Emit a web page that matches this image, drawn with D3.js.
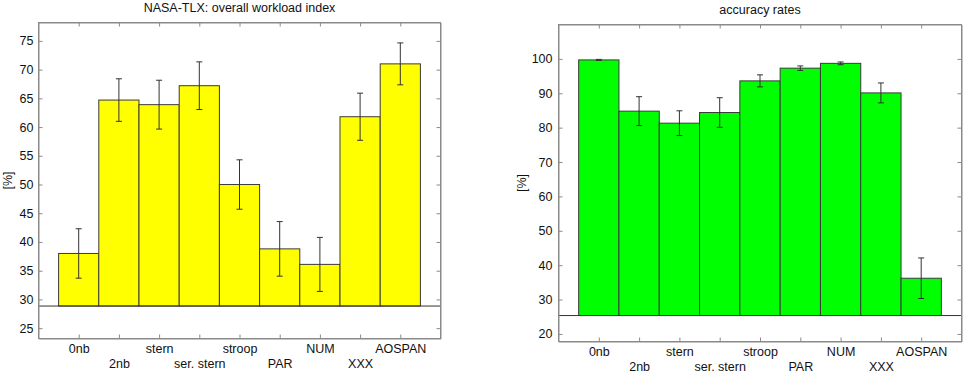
<!DOCTYPE html>
<html>
<head>
<meta charset="utf-8">
<script src="https://cdn.jsdelivr.net/npm/d3@7"></script>
<style>
  body { margin: 0; background: #fff; }
  svg { display: block; font-family: "Liberation Sans", Arial, sans-serif; }
  .axis path, .axis line { stroke: #8a8a8a; }
  .axis text { fill: #111; font-size: 12.5px; }
</style>
</head>
<body>
<div id="chart"></div>
<script>
'use strict';
const categories = ['0nb', '2nb', 'stern', 'ser. stern', 'stroop', 'PAR', 'NUM', 'XXX', 'AOSPAN'];

const workloadValues = [38.0, 64.7, 63.9, 67.2, 50.0, 38.8, 36.1, 61.8, 71.0];
const workloadErrors = [4.3, 3.7, 4.25, 4.15, 4.3, 4.75, 4.7, 4.1, 3.65];
const workloadTicks = [25, 30, 35, 40, 45, 50, 55, 60, 65, 70, 75];

const accuracyValues = [99.7, 84.8, 81.3, 84.4, 93.6, 97.3, 98.7, 90.1, 36.2];
const accuracyErrors = [0.15, 4.2, 3.6, 4.3, 1.75, 0.65, 0.4, 2.9, 5.9];
const accuracyTicks = [20, 30, 40, 50, 60, 70, 80, 90, 100];

const svg = d3.select('#chart').append('svg')
    .attr('width', 964)
    .attr('height', 375);

function drawPanel(opts) {
    let box = opts.box;
    let g = svg.append('g').attr('transform', 'translate(' + box.left + ',' + box.top + ')');
    let w = box.width, h = box.height;

    let x = d3.scaleLinear().domain([0, 10]).range([0, w]);
    let y = d3.scaleLinear().domain(opts.yDomain).range([h, 0]);
    let half = (x(1) - x(0)) / 2;

    // bars
    g.selectAll('.bar').data(opts.values).enter()
        .append('rect')
        .attr('class', 'bar')
        .attr('x', function (d, i) { return x(i + 1) - half; })
        .attr('y', function (d) { return y(d); })
        .attr('width', half * 2)
        .attr('height', function (d) { return y(opts.baseline) - y(d); })
        .style('fill', opts.color)
        .style('stroke', '#3a3a3a')
        .style('stroke-width', 1);

    // baseline
    g.append('line')
        .attr('x1', 0).attr('x2', w)
        .attr('y1', y(opts.baseline)).attr('y2', y(opts.baseline))
        .style('stroke', '#333').style('stroke-width', 1);

    // error bars
    let err = g.selectAll('.err').data(opts.values).enter().append('g').attr('class', 'err')
        .style('stroke', '#333').style('stroke-width', 1);
    err.append('line')
        .attr('x1', function (d, i) { return x(i + 1); })
        .attr('x2', function (d, i) { return x(i + 1); })
        .attr('y1', function (d, i) { return y(d + opts.errors[i]); })
        .attr('y2', function (d, i) { return y(d - opts.errors[i]); });
    [1, -1].forEach(function (s) {
        err.append('line')
            .attr('x1', function (d, i) { return x(i + 1) - 3; })
            .attr('x2', function (d, i) { return x(i + 1) + 3; })
            .attr('y1', function (d, i) { return y(d + s * opts.errors[i]); })
            .attr('y2', function (d, i) { return y(d + s * opts.errors[i]); });
    });

    let xTicks = d3.range(1, 10);

    // axes (ticks pointing inward)
    g.append('g').attr('class', 'axis')
        .call(d3.axisLeft(y).tickValues(opts.yTicks).tickSizeInner(-4).tickSizeOuter(0).tickPadding(opts.yPad));
    g.append('g').attr('class', 'axis').attr('transform', 'translate(' + w + ',0)')
        .call(d3.axisRight(y).tickValues(opts.yTicks).tickSizeInner(-4).tickSizeOuter(0).tickFormat(''));
    g.append('g').attr('class', 'axis')
        .call(d3.axisTop(x).tickValues(xTicks).tickSizeInner(-4).tickSizeOuter(0).tickFormat(''));
    let xAxis = g.append('g').attr('class', 'axis').attr('transform', 'translate(0,' + h + ')')
        .call(d3.axisBottom(x).tickValues(xTicks).tickSizeInner(-4).tickSizeOuter(0)
            .tickFormat(function (d) { return categories[d - 1]; }));
    xAxis.selectAll('text')
        .attr('y', function (d) { return d % 2 === 1 ? 6 : 21; });

    // box edges
    g.append('rect').attr('width', w).attr('height', h)
        .style('fill', 'none').style('stroke', '#8a8a8a').style('stroke-width', 1);

    svg.append('text')
        .attr('x', box.left + w / 2).attr('y', opts.titleY)
        .attr('text-anchor', 'middle')
        .style('font-size', '12.5px').style('fill', '#111')
        .text(opts.title);

    svg.append('text')
        .attr('transform', 'translate(' + opts.labelX + ',' + (box.top + h / 2) + ') rotate(-90)')
        .attr('text-anchor', 'middle')
        .attr('dy', '0.35em')
        .style('font-size', '12.5px').style('fill', '#111')
        .text('[%]');
}

drawPanel({
    box: {left: 38.5, top: 22.5, width: 402, height: 316},
    yDomain: [23.2, 78.2],
    yTicks: workloadTicks,
    yPad: 5,
    baseline: 28.85,
    values: workloadValues,
    errors: workloadErrors,
    color: '#ffff00',
    title: 'NASA-TLX: overall workload index',
    titleY: 12,
    labelX: 7.5
});

drawPanel({
    box: {left: 558.5, top: 24.5, width: 403, height: 317},
    yDomain: [17.8, 110],
    yTicks: accuracyTicks,
    yPad: 6,
    baseline: 25.35,
    values: accuracyValues,
    errors: accuracyErrors,
    color: '#00ff00',
    title: 'accuracy rates',
    titleY: 14,
    labelX: 522
});
</script>
</body>
</html>
